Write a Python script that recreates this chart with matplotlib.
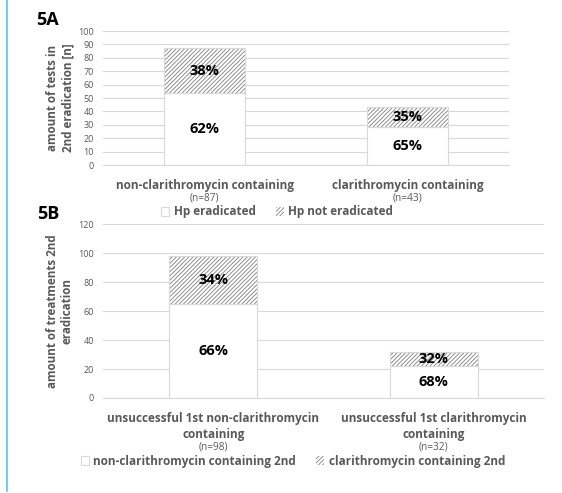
import matplotlib.pyplot as plt
from matplotlib.patches import Patch
from matplotlib.lines import Line2D

# 5A data
cats_a = ["non-clarithromycin containing", "clarithromycin containing"]
n_a = [87, 43]
erad_a = [54, 28]
not_erad_a = [33, 15]
pct_erad_a = ["62%", "65%"]
pct_not_a = ["38%", "35%"]
legend_a = ["Hp eradicated", "Hp not eradicated"]

# 5B data
cats_b = ["unsuccessful 1st non-clarithromycin\ncontaining", "unsuccessful 1st clarithromycin\ncontaining"]
n_b = [98, 32]
non_clari_b = [65, 22]
clari_b = [33, 10]
pct_non_b = ["66%", "68%"]
pct_clari_b = ["34%", "32%"]
legend_b = ["non-clarithromycin containing 2nd", "clarithromycin containing 2nd"]

plt.rcParams["font.family"] = ["Open Sans", "DejaVu Sans"]
plt.rcParams["hatch.linewidth"] = 0.6

GRID = "#d9d9d9"
TXT = "#595959"
HATCH = "#7f7f7f"
FS = 8.5

fig = plt.figure(figsize=(5.62, 4.93), dpi=100)
fig.add_artist(Line2D([0.0125, 0.0125], [0.005, 1.0], color="#4fc3f7", lw=1.2))


def stacked(ax, cats, n, low, high, pl, ph, ymax, step, width, ylabel, n_off):
    x = range(len(cats))
    ax.bar(x, low, width=width, color="white", edgecolor=GRID, lw=0.8, zorder=2)
    ax.bar(x, high, width=width, bottom=low, color="white", edgecolor=HATCH,
           lw=0, hatch="////////", zorder=2)
    ax.bar(x, high, width=width, bottom=low, color="none", edgecolor=GRID,
           lw=0.8, zorder=3)
    for i in x:
        ax.text(i, low[i] / 2, pl[i], ha="center", va="center",
                fontsize=10.5, fontweight="bold", color="black", zorder=4)
        ax.text(i, low[i] + high[i] / 2, ph[i], ha="center", va="center",
                fontsize=10.5, fontweight="bold", color="black", zorder=4)
    ax.set_xlim(-0.5, len(cats) - 0.5)
    ax.set_ylim(0, ymax)
    ax.set_yticks(range(0, ymax + 1, step))
    ax.yaxis.grid(True, color=GRID, lw=0.8)
    ax.set_axisbelow(True)
    for s in ["top", "right", "left"]:
        ax.spines[s].set_visible(False)
    ax.spines["bottom"].set_color(GRID)
    ax.tick_params(axis="y", length=0, labelsize=6.5, labelcolor=TXT, pad=6.5)
    ax.tick_params(axis="x", length=0, labelsize=FS, labelcolor=TXT, pad=10)
    ax.set_xticks(list(x))
    ax.set_xticklabels(cats, fontweight="bold", linespacing=1.3)
    for i in x:
        ax.annotate(f"(n={n[i]})", xy=(i, 0), xycoords=("data", "axes fraction"),
                    xytext=(0, -n_off), textcoords="offset points",
                    ha="center", va="center", fontsize=7.3, color=TXT)
    ax.set_ylabel(ylabel, fontsize=8.4, fontweight="bold", color=TXT, linespacing=1.2)


ax_a = fig.add_axes([0.1833, 0.6653, 0.7224, 0.2718])
stacked(ax_a, cats_a, n_a, erad_a, not_erad_a, pct_erad_a, pct_not_a, 100, 10, 0.397,
        "amount of tests in\n2nd eradication [n]", 24)
ax_a.yaxis.set_label_coords(-0.071, 0.5)

ax_b = fig.add_axes([0.1833, 0.1927, 0.7847, 0.3529])
stacked(ax_b, cats_b, n_b, non_clari_b, clari_b, pct_non_b, pct_clari_b, 120, 20, 0.4,
        "amount of treatments 2nd\neradication", 35.5)
ax_b.yaxis.set_label_coords(-0.066, 0.5)

fig.text(0.065, 0.959, "5A", fontsize=13, fontweight="bold", ha="left", va="center")
fig.text(0.066, 0.566, "5B", fontsize=13, fontweight="bold", ha="left", va="center")

for labels, pos in [(legend_a, (277 / 562, 1 - 212 / 493)), (legend_b, (293 / 562, 1 - 461 / 493))]:
    handles = [Patch(facecolor="white", edgecolor=GRID, lw=0.8),
               Patch(facecolor="white", edgecolor=HATCH, hatch="////////", lw=0)]
    leg = fig.legend(handles, labels, loc="center", bbox_to_anchor=pos, ncol=2,
                     frameon=False, handlelength=0.7, handleheight=0.7,
                     handletextpad=0.35, columnspacing=1.7,
                     prop={"size": FS, "weight": "bold"})
    for t in leg.get_texts():
        t.set_color(TXT)

fig.savefig("out.png", dpi=100)
